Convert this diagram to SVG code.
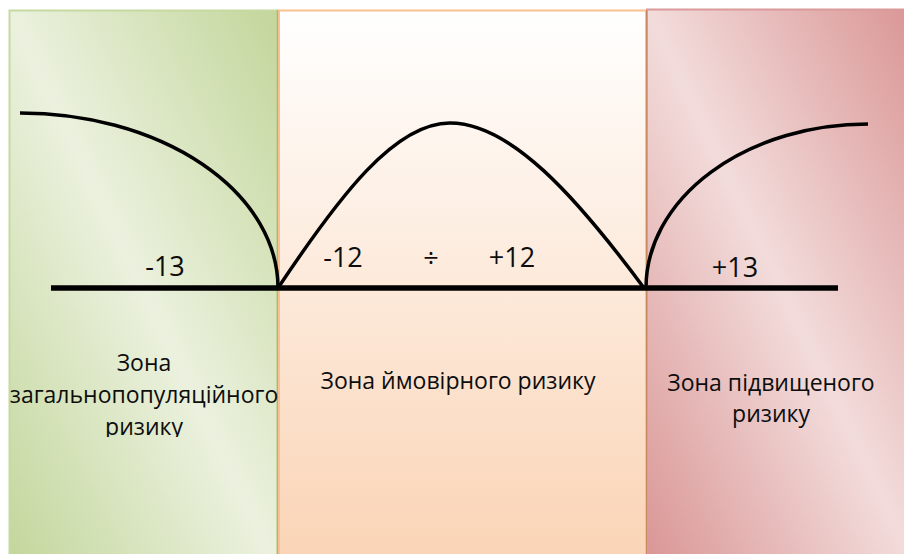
<svg xmlns="http://www.w3.org/2000/svg" width="904" height="554" viewBox="0 0 904 554">
  <defs>
    <linearGradient id="gGreen" x1="1" y1="0" x2="0" y2="1">
      <stop offset="0" stop-color="#c3d69b"/>
      <stop offset="0.5" stop-color="#ebf1de"/>
      <stop offset="1" stop-color="#c3d69b"/>
    </linearGradient>
    <linearGradient id="gOrange" x1="0" y1="0" x2="0" y2="1">
      <stop offset="0" stop-color="#ffffff"/>
      <stop offset="1" stop-color="#fad3b4"/>
    </linearGradient>
    <linearGradient id="gRed" x1="1" y1="0" x2="0" y2="1">
      <stop offset="0" stop-color="#d99594"/>
      <stop offset="0.5" stop-color="#f2dcdb"/>
      <stop offset="1" stop-color="#d99594"/>
    </linearGradient>
    <clipPath id="clipLeft">
      <rect x="0" y="0" width="300" height="437"/>
    </clipPath>
  </defs>
  <style>
    .lbl { font-family: "Open Sans", "Liberation Sans", sans-serif; font-size: 23px; fill: #0d0d0d; text-anchor: middle; }
    .num { font-family: "Open Sans", "Liberation Sans", sans-serif; font-size: 27px; fill: #0d0d0d; text-anchor: middle; }
    .curve { fill: none; stroke: #000; stroke-width: 3.5; stroke-linecap: butt; }
    .axis { fill: none; stroke: #000; stroke-width: 5.5; }
  </style>
  <rect width="904" height="554" fill="#ffffff"/>

  <g id="zone-general">
    <rect x="9.5" y="10.5" width="268" height="560" fill="url(#gGreen)" stroke="#c6d9a0" stroke-width="2"/>
    <line x1="277.5" y1="10" x2="277.5" y2="560" stroke="#a5b874" stroke-width="1.5"/>
    <g clip-path="url(#clipLeft)">
      <text class="lbl" x="144" y="371">Зона</text>
      <text class="lbl" x="144" y="403">загальнопопуляційного</text>
      <text class="lbl" x="144" y="435">ризику</text>
    </g>
    <text class="num" x="165" y="276">-13</text>
  </g>

  <g id="zone-probable">
    <rect x="279" y="10.5" width="367" height="560" fill="url(#gOrange)" stroke="#fac090" stroke-width="2"/>
    <text class="lbl" x="458" y="389">Зона ймовірного ризику</text>
    <text class="num" x="343" y="267">-12</text>
    <text class="num" x="431" y="267">÷</text>
    <text class="num" x="512" y="267">+12</text>
  </g>

  <g id="zone-high">
    <rect x="647" y="9.5" width="270" height="560" fill="url(#gRed)" stroke="#d99a99" stroke-width="2"/>
    <line x1="646.5" y1="10" x2="646.5" y2="560" stroke="#c98a62" stroke-width="1"/>
    <text class="lbl" x="771" y="391">Зона підвищеного</text>
    <text class="lbl" x="771" y="422">ризику</text>
    <text class="num" x="735" y="277">+13</text>
  </g>

  <g id="connectors">
    <line class="axis" x1="51" y1="288" x2="838" y2="288"/>
    <path class="curve" d="M20,113 A258,175 0 0 1 278,288"/>
    <path class="curve" d="M278,288 C340,195 395,123 450,123 C510,123 575,195 644,288"/>
    <path class="curve" d="M646,288 A222,164 0 0 1 868,124"/>
  </g>
</svg>
